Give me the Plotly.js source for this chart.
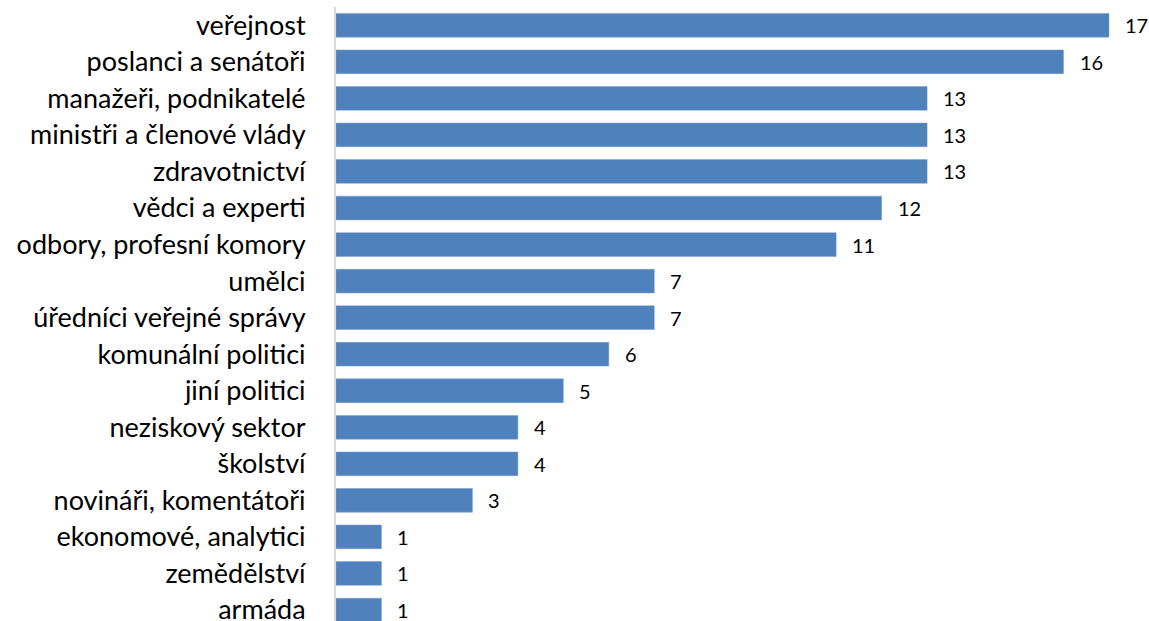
<!DOCTYPE html>
<html><head><meta charset="utf-8">
<script src="https://cdn.plot.ly/plotly-3.0.1.min.js"></script>
<style>html,body{margin:0;padding:0;background:#fff}</style>
</head><body>
<div id="chart" style="width:1149px;height:621px"></div>
<script>
// top to bottom order
const categories = ["veřejnost","poslanci a senátoři","manažeři, podnikatelé","ministři a členové vlády","zdravotnictví","vědci a experti","odbory, profesní komory","umělci","úředníci veřejné správy","komunální politici","jiní politici","neziskový sektor","školství","novináři, komentátoři","ekonomové, analytici","zemědělství","armáda"];
const values = [17,16,13,13,13,12,11,7,7,6,5,4,4,3,1,1,1];

const cats = categories.slice().reverse();
const vals = values.slice().reverse();

const trace = {
  type: "bar", orientation: "h",
  y: cats, x: vals,
  marker: {color: "#4f81bd", line: {color: "#7a9fd0", width: 0.5}},
  hoverinfo: "none", width: 0.65
};

const annotations = cats.map((c, i) => ({
  x: vals[i], y: c, xref: "x", yref: "y",
  text: String(vals[i]), showarrow: false,
  xanchor: "left", xshift: 14,
  font: {family: "Lato, 'Open Sans', sans-serif", size: 20, color: "#000"}
}));

const layout = {
  width: 1149, height: 621,
  margin: {l: 336, r: 0, t: 7, b: 0},
  paper_bgcolor: "#fff", plot_bgcolor: "#fff",
  showlegend: false,
  xaxis: {range: [0, 17.88], showgrid: false, zeroline: false, showticklabels: false, showline: false, fixedrange: true},
  yaxis: {type: "category", categoryorder: "array", categoryarray: cats,
    range: [-0.3, 16.5], showgrid: false, zeroline: false,
    showline: true, linecolor: "#d9d9d9", linewidth: 2,
    ticks: "", ticklabelstandoff: 23,
    tickfont: {family: "Lato, 'Open Sans', sans-serif", size: 27, color: "#000"}},
  annotations: annotations
};

Plotly.newPlot("chart", [trace], layout, {displayModeBar: false, staticPlot: true});
</script>
</body></html>
